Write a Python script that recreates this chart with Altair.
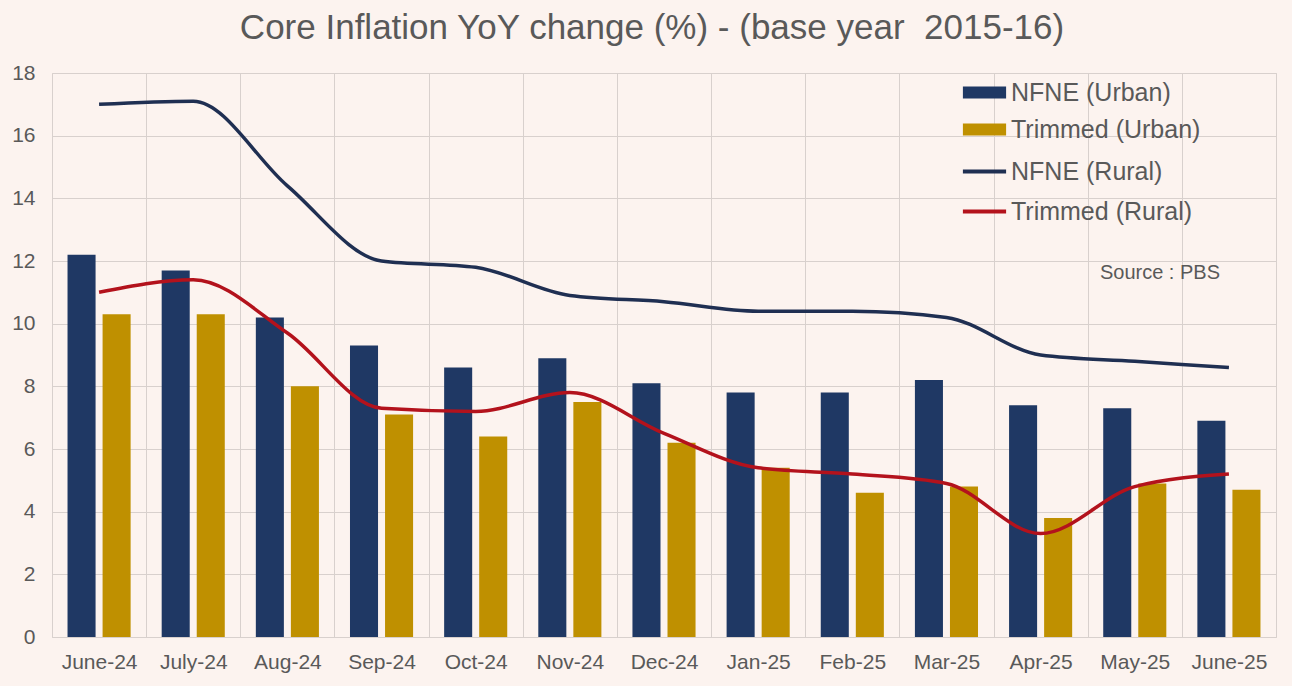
import altair as alt
import pandas as pd

months = ["June-24", "July-24", "Aug-24", "Sep-24", "Oct-24", "Nov-24", "Dec-24",
          "Jan-25", "Feb-25", "Mar-25", "Apr-25", "May-25", "June-25"]
nfne_urban = [12.2, 11.7, 10.2, 9.3, 8.6, 8.9, 8.1, 7.8, 7.8, 8.2, 7.4, 7.3, 6.9]
trimmed_urban = [10.3, 10.3, 8.0, 7.1, 6.4, 7.5, 6.2, 5.4, 4.6, 4.8, 3.8, 4.9, 4.7]
nfne_rural = [17.0, 17.1, 14.4, 12.0, 11.8, 10.9, 10.7, 10.4, 10.4, 10.2, 9.0, 8.8, 8.6]
trimmed_rural = [11.0, 11.4, 9.7, 7.3, 7.2, 7.8, 6.5, 5.4, 5.2, 4.9, 3.3, 4.8, 5.2]
bar_series = ["NFNE (Urban)", "Trimmed (Urban)"]
line_series = ["NFNE (Rural)", "Trimmed (Rural)"]
y_ticks = [0, 2, 4, 6, 8, 10, 12, 14, 16, 18]
title_text = "Core Inflation YoY change (%) - (base year \u00a02015-16)"
source_text = "Source : PBS"

FONT = "Liberation Sans"
TEXT = "#595959"
GRID = "#D8D0CD"
BG = "#FCF3EF"

bars = pd.DataFrame({
    "month": months * 2,
    "series": [bar_series[0]] * len(months) + [bar_series[1]] * len(months),
    "value": nfne_urban + trimmed_urban,
})
lines = pd.DataFrame({
    "month": months * 2,
    "series": [line_series[0]] * len(months) + [line_series[1]] * len(months),
    "value": nfne_rural + trimmed_rural,
})

x_enc = alt.X("month:N", sort=months,
              scale=alt.Scale(paddingInner=0, paddingOuter=0),
              axis=alt.Axis(labelAngle=0, tickBand="extent", ticks=False, domain=False,
                            grid=True, gridColor=GRID, labelFontSize=21, labelColor=TEXT,
                            labelFont=FONT, labelPadding=14, title=None))
y_enc = alt.Y("value:Q", scale=alt.Scale(domain=[0, 18], nice=False),
              axis=alt.Axis(values=y_ticks, domain=False, ticks=False, grid=True,
                            gridColor=GRID, labelFontSize=21, labelColor=TEXT,
                            labelFont=FONT, labelPadding=17, title=None))

bar_layer = alt.Chart(bars).mark_bar().encode(
    x=x_enc,
    xOffset=alt.XOffset("series:N", sort=bar_series,
                        scale=alt.Scale(paddingInner=0.2, paddingOuter=0.443)),
    y=y_enc,
    fill=alt.Fill("series:N", sort=bar_series,
                  scale=alt.Scale(domain=bar_series, range=["#1F3864", "#BF9000"]),
                  legend=alt.Legend(title=None, orient="none", legendX=919, legendY=6,
                                    symbolType="M-1.6,-0.45H1.6V0.45H-1.6Z", symbolSize=729,
                                    symbolStrokeWidth=0, labelOffset=13, rowPadding=10,
                                    labelFontSize=25, labelColor=TEXT, labelFont=FONT,
                                    labelLimit=400, padding=0)),
)

line_layer = alt.Chart(lines).mark_line(interpolate="monotone", strokeWidth=3.5).encode(
    x=x_enc,
    y=y_enc,
    stroke=alt.Stroke("series:N", sort=line_series,
                      scale=alt.Scale(domain=line_series, range=["#1F2F52", "#B3121C"]),
                      legend=alt.Legend(title=None, orient="none", legendX=917, legendY=83,
                                        symbolType="M-1.6,0H1.6", symbolSize=729,
                                        symbolStrokeWidth=4, labelOffset=11, rowPadding=11,
                                        labelFontSize=25, labelColor=TEXT, labelFont=FONT,
                                        labelLimit=400, padding=0)),
)

source_layer = alt.Chart(pd.DataFrame({"t": [source_text]})).mark_text(
    align="right", baseline="middle", fontSize=20, font=FONT, color=TEXT
).encode(text="t:N", x=alt.value(1168), y=alt.value(200))

chart = alt.layer(bar_layer, line_layer, source_layer).resolve_scale(
    fill="independent", stroke="independent"
).properties(
    width=1224, height=564,
    title=alt.Title(title_text, fontSize=35, font=FONT, color=TEXT, fontWeight="normal",
                    anchor="middle", offset=16, dx=-12),
    autosize=alt.AutoSizeParams(type="none"),
    padding={"left": 52, "top": 73, "right": 16, "bottom": 49},
    background=BG,
).configure_view(stroke=GRID, strokeWidth=1)

chart.save("out.html", embed_options={"renderer": "svg", "actions": False})
